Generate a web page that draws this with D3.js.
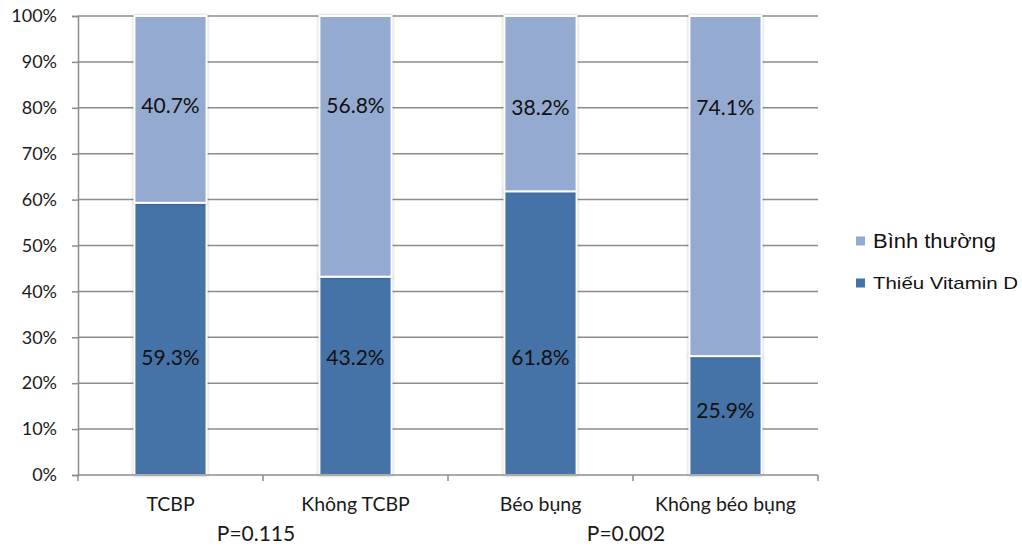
<!DOCTYPE html>
<html>
<head>
<meta charset="utf-8">
<script src="https://cdn.jsdelivr.net/npm/d3@7/dist/d3.min.js"></script>
<style>
  html, body { margin: 0; padding: 0; background: #fff; }
  svg { display: block; }
</style>
</head>
<body>
<svg id="chart" width="1022" height="548"></svg>
<script>
// Categories and stacked shares (percent)
const categories = ["TCBP", "Không TCBP", "Béo bụng", "Không béo bụng"];
const thieuVitaminD = [59.3, 43.2, 61.8, 25.9];
const binhThuong = [40.7, 56.8, 38.2, 74.1];
const seriesNames = ["Bình thường", "Thiếu Vitamin D"];
const yTicks = [0, 10, 20, 30, 40, 50, 60, 70, 80, 90, 100];
const pValues = ["P=0.115", "P=0.002"];

// Label anchor heights (in percent units) for each segment's value text
const lowLabelAt = [25.8, 25.8, 25.8, 14.2];
const highLabelAt = [80.8, 80.8, 80.2, 80.2];

const colors = { low: "#4572a7", high: "#95aad1" };

const svg = d3.select("#chart");
const m = { left: 78, right: 204, top: 16, bottom: 73 };
const W = 1022, H = 548;

const x = d3.scaleBand().domain(categories).range([m.left, W - m.right]).paddingInner(0.61).paddingOuter(0.305);
const y = d3.scaleLinear().domain([0, 100]).range([H - m.bottom, m.top]);

const tickFont = "Lato, 'Open Sans', sans-serif";

// Horizontal gridlines
svg.append("g")
  .selectAll("line")
  .data(yTicks.filter(d => d > 0))
  .join("line")
  .attr("x1", m.left).attr("x2", W - m.right)
  .attr("y1", d => y(d)).attr("y2", d => y(d))
  .attr("stroke", "#8c8c8c").attr("stroke-width", 1.5);

// Y axis
const yAxis = svg.append("g")
  .attr("transform", `translate(${m.left},0)`)
  .call(d3.axisLeft(y).tickValues(yTicks).tickFormat(d => d + "%").tickSize(6).tickPadding(15));
yAxis.select(".domain").attr("stroke", "#8c8c8c").attr("stroke-width", 1.5);
yAxis.selectAll(".tick line").attr("stroke", "#8c8c8c").attr("stroke-width", 1.5);
yAxis.selectAll(".tick text").attr("font-family", tickFont).attr("font-size", 18).attr("fill", "#1a1a1a");

// Stacked bars
const stackData = categories.map((c, i) => ({ cat: c, low: thieuVitaminD[i], high: binhThuong[i] }));
const stack = d3.stack().keys(["low", "high"])(stackData);

const bars = svg.append("g");
stack.forEach(layer => {
  bars.selectAll(null)
    .data(layer)
    .join("rect")
    .attr("x", d => x(d.data.cat))
    .attr("width", x.bandwidth())
    .attr("y", d => y(d[1]))
    .attr("height", d => y(d[0]) - y(d[1]))
    .attr("fill", colors[layer.key])
    .attr("stroke", "#ffffff")
    .attr("stroke-width", 2)
    .style("filter", "drop-shadow(0px 0px 1.5px rgba(0,0,0,0.25))");
});

// X axis baseline and category-boundary ticks
const baseY = y(0);
svg.append("line")
  .attr("x1", m.left).attr("x2", W - m.right)
  .attr("y1", baseY).attr("y2", baseY)
  .attr("stroke", "#8c8c8c").attr("stroke-width", 1.5);
const bounds = d3.range(categories.length + 1).map(i => m.left + i * (W - m.left - m.right) / categories.length);
svg.append("g").selectAll("line").data(bounds).join("line")
  .attr("x1", d => d).attr("x2", d => d)
  .attr("y1", baseY).attr("y2", baseY + 6)
  .attr("stroke", "#8c8c8c").attr("stroke-width", 1.5);

// Category labels
svg.append("g").selectAll("text").data(categories).join("text")
  .attr("x", d => x(d) + x.bandwidth() / 2)
  .attr("y", baseY + 36)
  .attr("text-anchor", "middle")
  .attr("font-family", tickFont).attr("font-size", 19.5).attr("fill", "#1a1a1a")
  .text(d => d);

// P-values under each pair
svg.append("g").selectAll("text").data(pValues).join("text")
  .attr("x", (d, i) => (x(categories[i * 2]) + x(categories[i * 2 + 1]) + x.bandwidth()) / 2 - 7)
  .attr("y", baseY + 66)
  .attr("text-anchor", "middle")
  .attr("font-family", tickFont).attr("font-size", 21).attr("fill", "#1a1a1a")
  .text(d => d);

// Value labels
const labelFont = "Lato, 'Open Sans', sans-serif";
const vl = svg.append("g");
vl.selectAll(".lo").data(categories).join("text")
  .attr("x", d => x(d) + x.bandwidth() / 2)
  .attr("y", (d, i) => y(lowLabelAt[i]))
  .attr("text-anchor", "middle").attr("dominant-baseline", "central")
  .attr("font-family", labelFont).attr("font-size", 21).attr("fill", "#111")
  .text((d, i) => thieuVitaminD[i].toFixed(1) + "%");
vl.selectAll(".hi").data(categories).join("text")
  .attr("x", d => x(d) + x.bandwidth() / 2)
  .attr("y", (d, i) => y(highLabelAt[i]))
  .attr("text-anchor", "middle").attr("dominant-baseline", "central")
  .attr("font-family", labelFont).attr("font-size", 21).attr("fill", "#111")
  .text((d, i) => binhThuong[i].toFixed(1) + "%");

// Legend
const legend = svg.append("g").attr("transform", "translate(856,0)");
const legendItems = [
  { name: seriesNames[0], color: colors.high, y: 241, size: 19.5, len: 123 },
  { name: seriesNames[1], color: colors.low, y: 283, size: 17, len: 145 }
];
legendItems.forEach(it => {
  legend.append("rect").attr("x", 0).attr("y", it.y - 4.5).attr("width", 9).attr("height", 9).attr("fill", it.color);
  legend.append("text").attr("x", 17).attr("y", it.y).attr("dominant-baseline", "central")
    .attr("font-family", "'Liberation Sans', Arial, sans-serif").attr("font-size", it.size).attr("fill", "#111")
    .attr("textLength", it.len).attr("lengthAdjust", "spacingAndGlyphs")
    .text(it.name);
});
</script>
</body>
</html>
